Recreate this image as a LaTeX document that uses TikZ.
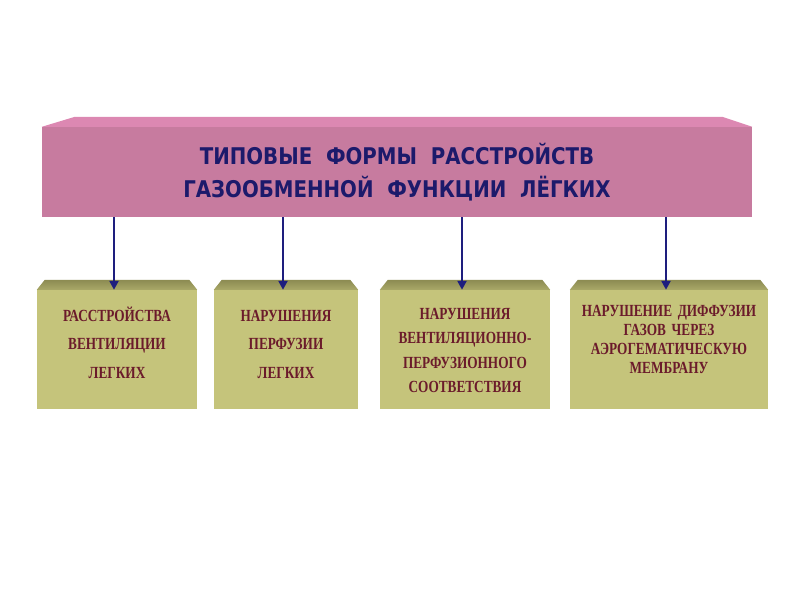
\documentclass[tikz,border=0pt]{standalone}
\usepackage{fontspec}
\setmainfont{Liberation Serif}
\newfontfamily\titlefont[FakeStretch=0.86]{DejaVu Sans}
\newfontfamily\boxfont[FakeStretch=0.78]{Liberation Serif}
\usetikzlibrary{arrows.meta,calc}

\definecolor{pinkfront}{HTML}{C77B9F}
\definecolor{pinktop}{HTML}{DC88B2}
\definecolor{olivefront}{HTML}{C5C47B}
\definecolor{olivedark}{HTML}{8C8B52}
\definecolor{olivemid}{HTML}{A9A868}
\definecolor{titleblue}{HTML}{1C1A6B}
\definecolor{arrowblue}{HTML}{1E1E7E}
\definecolor{boxred}{HTML}{6B1B2B}

\begin{document}
\begin{tikzpicture}[
  x=1pt, y=-1pt,
  banner/.style ={fill=pinkfront,inner sep=0,minimum width=710pt,minimum height=90pt,
                  align=center,text=titleblue,font=\titlefont\bfseries\fontsize{23}{33}\selectfont},
  btop/.style   ={fill=pinktop},
  face/.style   ={fill=olivefront,inner sep=0,minimum height=119pt},
  ftop/.style   ={top color=olivedark,bottom color=olivemid,draw=none},
  boxtxt/.style ={inner sep=0,align=center,text=boxred,anchor=base},
  ln/.style     ={draw=arrowblue,line width=2.4pt,-{Triangle[length=9pt,width=9pt]}},
]
\useasboundingbox (0,0) rectangle (800,600);

% ----------------------------------------------------------- the title banner
\node[banner] (ttl) at (397,172)
  {ТИПОВЫЕ\ \ ФОРМЫ\ \ РАССТРОЙСТВ\\ГАЗООБМЕННОЙ\ \ ФУНКЦИИ\ \ ЛЁГКИХ};
\fill[btop] (ttl.north west) -- ++(33,-10) -- ($(ttl.north east)+(-30,-10)$)
  -- (ttl.north east) -- cycle;

% ----------------------------------------------------------- the four forms
% k / centre x / width / first baseline / line skip / text
\foreach \k/\cx/\bw/\by/\ls/\txt in {
  1/117/160/321/28.5/{РАССТРОЙСТВА\\ВЕНТИЛЯЦИИ\\ЛЕГКИХ},
  2/286/144/321/28.5/{НАРУШЕНИЯ\\ПЕРФУЗИИ\\ЛЕГКИХ},
  3/465/170/319/24.6/{НАРУШЕНИЯ\\ВЕНТИЛЯЦИОННО-\\ПЕРФУЗИОННОГО\\СООТВЕТСТВИЯ},
  4/669/198/316/19.2/{НАРУШЕНИЕ ДИФФУЗИИ\\ГАЗОВ ЧЕРЕЗ\\АЭРОГЕМАТИЧЕСКУЮ\\МЕМБРАНУ}} {
  \node[face,minimum width=\bw pt] (b\k) at (\cx,349.5) {};
  \shade[ftop] (b\k.north west) -- ++(8,-10) -- ($(b\k.north east)+(-8,-10)$)
    -- (b\k.north east) -- cycle;
  \node[boxtxt,text width=\bw pt,font=\boxfont\bfseries\fontsize{17}{\ls}\selectfont]
    (t\k) at (\cx,\by) {\txt};
  \draw[ln] ([xshift=-3pt]ttl.south -| b\k.north) -- ([xshift=-3pt]b\k.north);
}

\end{tikzpicture}
\end{document}
